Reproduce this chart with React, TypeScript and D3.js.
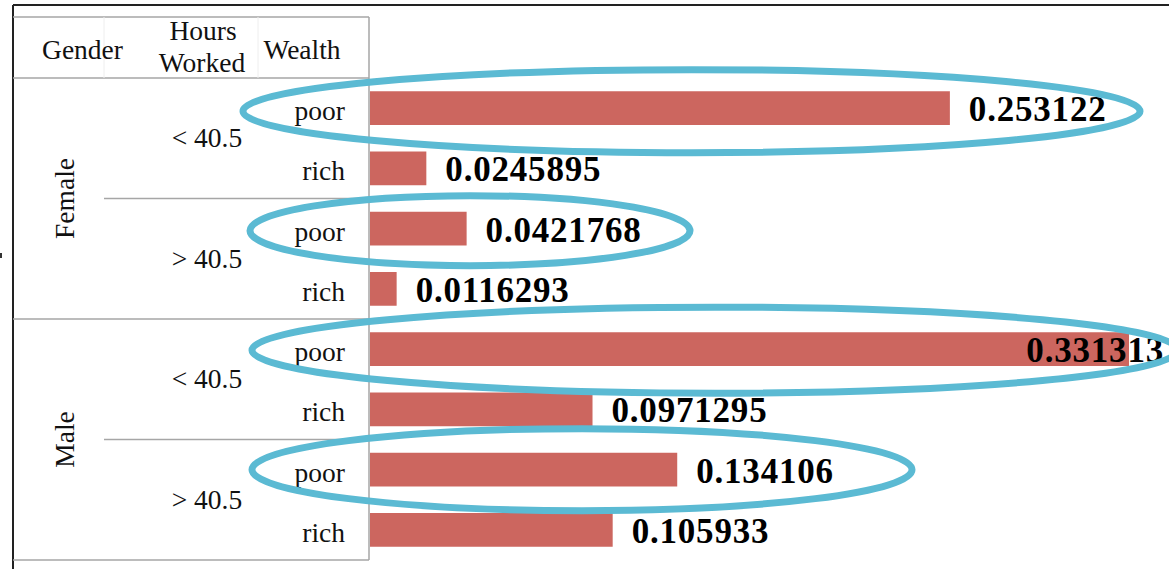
import React from "react";
import * as d3 from "d3";

const genders = ["Female", "Male"];
const hoursGroups = ["< 40.5", "> 40.5"];
const wealthLevels = ["poor", "rich"];
const values = [0.253122, 0.0245895, 0.0421768, 0.0116293, 0.331313, 0.0971295, 0.134106, 0.105933];
const valueLabels = ["0.253122", "0.0245895", "0.0421768", "0.0116293", "0.331313", "0.0971295", "0.134106", "0.105933"];
const highlightRows = [0, 2, 4, 6];
const highlightLeft = [243, 250, 252, 252];
const highlightRight = [1140, 690, 1178, 912];
const highlightRy = [41.5, 35, 43, 41];
const highlightDy = [3, 2, 1, 0];

const W = 1169;
const H = 569;
const axisX = 370;
const headerTop = 17;
const headerBottom = 78;
const tableBottom = 560;
const col1 = 104;
const col2 = 258;
const serif = "'Liberation Serif', 'Times New Roman', serif";
const barColor = "#CC665F";
const ringColor = "#5BBAD3";
const gridGray = "#A6A6A6";
const fs = 27.5;

export default function App() {
  const rows: { g: number; h: number; w: number; i: number }[] = [];
  genders.forEach((_, g) =>
    hoursGroups.forEach((_, h) =>
      wealthLevels.forEach((_, w) => rows.push({ g, h, w, i: rows.length }))
    )
  );
  const y = d3
    .scaleBand<number>()
    .domain(rows.map((r) => r.i))
    .range([headerBottom, tableBottom])
    .paddingInner(0.44)
    .paddingOuter(0.22);
  const step = y.step();
  const top0 = headerBottom;
  const x = d3.scaleLinear().domain([0, 0.331313]).range([axisX, 1129]);
  const rowCenter = (i: number) => (y(i) as number) + y.bandwidth() / 2;
  const maxV = d3.max(values) as number;

  return (
    <svg
      width={W}
      height={H}
      style={{ position: "absolute", left: 0, top: 0, background: "#fff" }}
      fontFamily={serif}
    >
      <rect x={0} y={0} width={W} height={H} fill="#fff" />
      {/* outer border */}
      <line x1={13} y1={5} x2={W} y2={5} stroke="#222" strokeWidth={2} />
      <line x1={13} y1={5} x2={13} y2={H} stroke="#222" strokeWidth={2} />
      <rect x={0} y={253} width={2} height={5} fill="#333" />

      {/* table frame */}
      <line x1={13} y1={headerTop} x2={axisX - 1} y2={headerTop} stroke={gridGray} strokeWidth={1.5} />
      <line x1={13} y1={headerBottom} x2={axisX - 1} y2={headerBottom} stroke={gridGray} strokeWidth={1.5} />
      <line x1={13} y1={tableBottom} x2={axisX - 1} y2={tableBottom} stroke={gridGray} strokeWidth={1.5} />
      <line x1={axisX - 1} y1={headerTop} x2={axisX - 1} y2={tableBottom} stroke={gridGray} strokeWidth={1.5} />
      <line x1={col1} y1={headerTop} x2={col1} y2={headerBottom} stroke="#eee" strokeWidth={1} />
      <line x1={col2} y1={headerTop} x2={col2} y2={headerBottom} stroke="#eee" strokeWidth={1} />

      {/* headers */}
      <text x={82.5} y={59} fontSize={fs} textAnchor="middle" fill="#111">Gender</text>
      <text x={203} y={40} fontSize={fs} textAnchor="middle" fill="#111">Hours</text>
      <text x={202} y={72} fontSize={fs} textAnchor="middle" fill="#111">Worked</text>
      <text x={302} y={59} fontSize={fs} textAnchor="middle" fill="#111">Wealth</text>

      {/* gender groups */}
      {genders.map((g, gi) => {
        const gTop = top0 + gi * 4 * step;
        const gMid = gTop + 2 * step;
        return (
          <g key={g}>
            {gi > 0 && (
              <line x1={13} y1={gTop} x2={axisX - 1} y2={gTop} stroke={gridGray} strokeWidth={1.5} />
            )}
            <text
              transform={`translate(74,${gMid}) rotate(-90)`}
              fontSize={fs}
              textAnchor="middle"
              fill="#111"
            >
              {g}
            </text>
            {hoursGroups.map((h, hi) => {
              const hTop = gTop + hi * 2 * step;
              return (
                <g key={h}>
                  {hi > 0 && (
                    <line x1={col1} y1={hTop} x2={axisX - 1} y2={hTop} stroke={gridGray} strokeWidth={1.5} />
                  )}
                  <text x={207} y={hTop + step + 9} fontSize={fs} textAnchor="middle" fill="#111">
                    {h}
                  </text>
                </g>
              );
            })}
          </g>
        );
      })}

      {/* bars */}
      {rows.map((r) => (
        <g key={r.i}>
          <text x={345} y={rowCenter(r.i) + 12} fontSize={fs} textAnchor="end" fill="#111">
            {wealthLevels[r.w]}
          </text>
          <rect
            x={x(0)}
            y={y(r.i)}
            width={x(values[r.i]) - x(0)}
            height={y.bandwidth()}
            fill={barColor}
          />
        </g>
      ))}

      {/* value labels */}
      {rows.map((r) => {
        const isMax = values[r.i] === maxV;
        return (
          <text
            key={r.i}
            x={isMax ? 1164 : x(values[r.i]) + 19}
            y={rowCenter(r.i) + 13}
            fontSize={35}
            letterSpacing={0.8}
            fontWeight="bold"
            textAnchor={isMax ? "end" : "start"}
            fill="#000"
          >
            {valueLabels[r.i]}
          </text>
        );
      })}

      {/* highlight rings */}
      {highlightRows.map((ri, k) => (
        <ellipse
          key={ri}
          cx={(highlightLeft[k] + highlightRight[k]) / 2}
          cy={rowCenter(ri) + highlightDy[k]}
          rx={(highlightRight[k] - highlightLeft[k]) / 2}
          ry={highlightRy[k]}
          fill="none"
          stroke={ringColor}
          strokeWidth={7}
        />
      ))}
    </svg>
  );
}
